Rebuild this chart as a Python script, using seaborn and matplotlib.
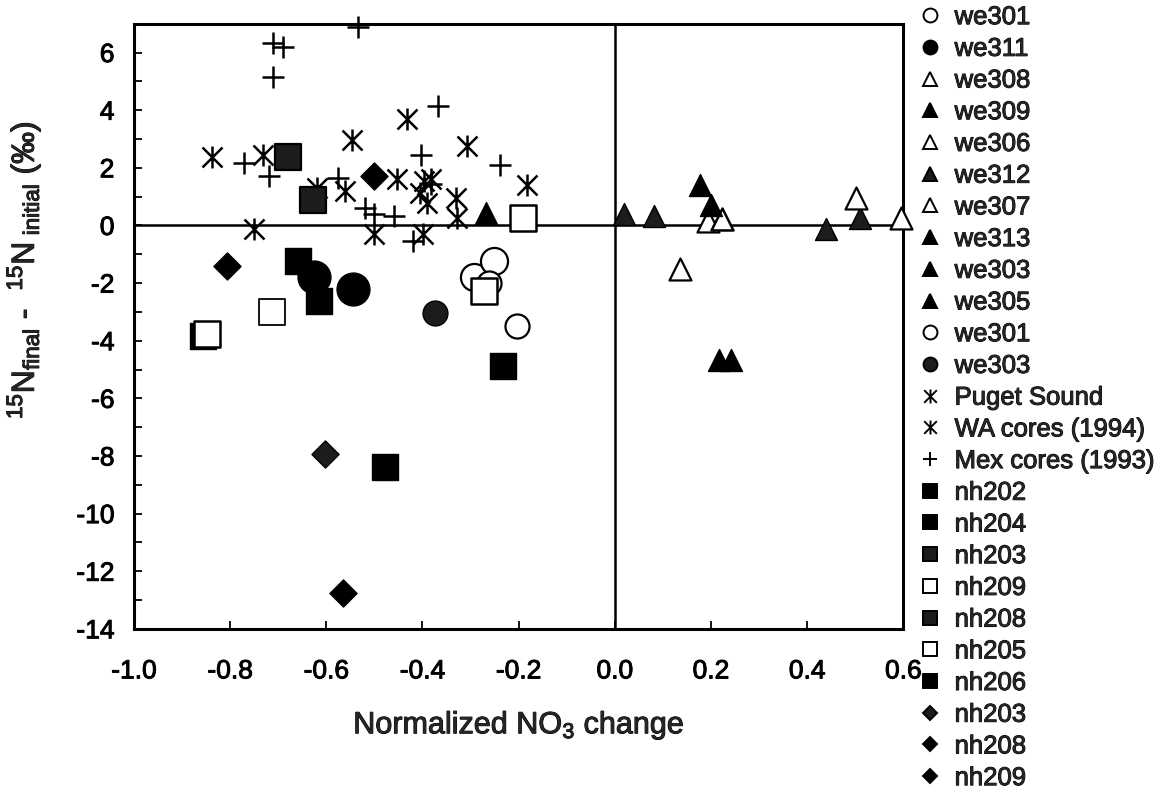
"""
Recreated figure: 15N change vs normalized NO3 change for the we/nh
incubations and the Puget Sound / WA / Mex core data.
"""

import numpy as np
import pandas as pd
import matplotlib
matplotlib.use("Agg")
import matplotlib.pyplot as plt
import matplotlib.patheffects as pe
from matplotlib.lines import Line2D
from matplotlib.path import Path
from matplotlib.text import Text
from matplotlib.ticker import MultipleLocator
import seaborn as sns

# series in legend order; we301 / we303 / nh203 / nh208 / nh209 appear twice,
# so the keys carry a suffix and the legend text is kept separately
series_keys = ["we301", "we311", "we308", "we309", "we306", "we312", "we307",
               "we313", "we303", "we305", "we301b", "we303b", "puget",
               "wa94", "mex93", "nh202", "nh204", "nh203", "nh209", "nh208",
               "nh205", "nh206", "nh203d", "nh208d", "nh209d"]
legend_labels = ["we301", "we311", "we308", "we309", "we306", "we312", "we307",
                 "we313", "we303", "we305", "we301", "we303", "Puget Sound",
                 "WA cores (1994)", "Mex cores (1993)", "nh202", "nh204",
                 "nh203", "nh209", "nh208", "nh205", "nh206", "nh203", "nh208",
                 "nh209"]

# points (x: normalized NO3 change, y: d15N change)
pt_series = (["we301"] * 2 + ["we311"] * 2 + ["we308"] * 2 + ["we309"]
             + ["we306"] + ["we312"] * 4 + ["we307"] * 2 + ["we313"] * 2
             + ["we303"] + ["we305"] + ["we301b"] * 2 + ["we303b"]
             + ["puget"] * 6 + ["wa94"] * 12 + ["mex93"] * 15
             + ["nh202"] + ["nh204"] * 2 + ["nh203"] + ["nh209"] + ["nh208"]
             + ["nh205"] * 3 + ["nh206"] * 2 + ["nh203d"] + ["nh208d"] * 2
             + ["nh209d"])
pt_x = [-0.293, -0.251,                      # we301
        -0.626, -0.544,                      # we311
        0.135, 0.193,                        # we308
        0.177,                               # we309
        0.224,                               # we306
        0.019, 0.081, 0.440, 0.509,          # we312
        0.502, 0.596,                        # we307
        0.217, 0.242,                        # we313
        -0.267,                              # we303
        0.200,                               # we305
        -0.204, -0.262,                      # we301 (2)
        -0.374,                              # we303 (2)
        -0.751, -0.501, -0.398, -0.328, -0.619, -0.390,   # Puget Sound
        -0.837, -0.731, -0.546, -0.432, -0.307, -0.182,
        -0.453, -0.397, -0.404, -0.560, -0.331, -0.383,   # WA cores
        -0.534, -0.710, -0.689, -0.711, -0.368, -0.772, -0.719, -0.402,
        -0.238, -0.576, -0.383, -0.519, -0.501, -0.460, -0.420,  # Mex cores
        -0.658,                              # nh202
        -0.616, -0.857,                      # nh204
        -0.679,                              # nh203
        -0.712,                              # nh209
        -0.628,                              # nh208
        -0.848, -0.272, -0.190,              # nh205
        -0.232, -0.478,                      # nh206
        -0.602,                              # nh203 diamond
        -0.501, -0.807,                      # nh208 diamond
        -0.566]                              # nh209 diamond
pt_y = [-1.80, -1.23,
        -1.80, -2.21,
        -1.52, 0.15,
        1.41,
        0.21,
        0.38, 0.32, -0.14, 0.27,
        0.95, 0.27,
        -4.68, -4.68,
        0.44,
        0.72,
        -3.49, -2.00,
        -3.03,
        -0.14, -0.30, -0.31, 0.27, 1.30, 0.78,
        2.39, 2.45, 2.97, 3.71, 2.77, 1.41,
        1.61, 1.53, 1.13, 1.18, 0.95, 1.60,
        6.88, 6.33, 6.20, 5.15, 4.14, 2.16, 1.70, 2.43,
        2.08, 1.64, 1.45, 0.61, 0.38, 0.34, -0.54,
        -1.23,
        -2.61, -3.83,
        2.39,
        -3.01,
        0.90,
        -3.76, -2.26, 0.27,
        -4.87, -8.38,
        -7.92,
        1.70, -1.40,
        -12.75]

x_ticks = [-1.0, -0.8, -0.6, -0.4, -0.2, 0.0, 0.2, 0.4, 0.6]
y_ticks = [6, 4, 2, 0, -2, -4, -6, -8, -10, -12, -14]

# six-armed asterisk: an X with a vertical bar
ASTER = Path([(-1, -1), (1, 1), (-1, 1), (1, -1), (0, -1.1), (0, 1.1)],
             [Path.MOVETO, Path.LINETO, Path.MOVETO, Path.LINETO,
              Path.MOVETO, Path.LINETO])

DARK = "#1c1c1c"
# marker, face colour, marker area (pt^2), edge width
STYLE = {
    "we301": ("o", "white", 380, 1.6),
    "we311": ("o", "black", 560, 1.0),
    "we308": ("^", "white", 250, 1.6),
    "we309": ("^", "black", 250, 1.0),
    "we306": ("^", "white", 250, 1.8),
    "we312": ("^", DARK, 250, 1.0),
    "we307": ("^", "white", 250, 1.6),
    "we313": ("^", "black", 250, 1.0),
    "we303": ("^", "black", 250, 1.0),
    "we305": ("^", "black", 250, 1.0),
    "we301b": ("o", "white", 300, 1.6),
    "we303b": ("o", DARK, 320, 1.0),
    "puget": (ASTER, "black", 250, 1.8),
    "wa94": (ASTER, "black", 250, 1.8),
    "mex93": ("+", "black", 270, 1.8),
    "nh202": ("s", "black", 350, 1.0),
    "nh204": ("s", "black", 350, 1.0),
    "nh203": ("s", DARK, 350, 1.6),
    "nh209": ("s", "white", 330, 1.3),
    "nh208": ("s", DARK, 330, 1.6),
    "nh205": ("s", "white", 340, 1.8),
    "nh206": ("s", "black", 360, 1.0),
    "nh203d": ("D", DARK, 190, 1.0),
    "nh208d": ("D", "black", 190, 1.0),
    "nh209d": ("D", "black", 190, 1.0),
}

sns.set_style("ticks")
plt.rcParams["font.family"] = ["Liberation Sans", "DejaVu Sans"]
plt.rcParams["mathtext.fontset"] = "custom"
plt.rcParams["mathtext.rm"] = "Liberation Sans"
plt.rcParams["mathtext.it"] = "Liberation Sans:italic"
plt.rcParams["axes.unicode_minus"] = False

df = pd.DataFrame({"series": pt_series, "x": pt_x, "y": pt_y})

fig = plt.figure(figsize=(11.64, 7.91), dpi=100)
ax = fig.add_axes([0.115, 0.205, 0.661, 0.765])

ax.axhline(0, color="black", linewidth=1.8, zorder=1)
ax.axvline(0, color="black", linewidth=1.8, zorder=1)

for key in series_keys:
    sub = df[df["series"] == key]
    marker, face, size, lw = STYLE[key]
    sns.scatterplot(x=sub["x"], y=sub["y"], marker=marker, s=size, color=face,
                    edgecolor="black", linewidth=lw, legend=False, ax=ax,
                    zorder=3, clip_on=False)

ax.set_xlim(-1.0, 0.6)
ax.set_ylim(-14, 7)
ax.set_xticks(x_ticks)
ax.set_xticklabels([f"{v:.1f}" for v in x_ticks])
ax.set_yticks(y_ticks)
ax.set_yticklabels([str(v) for v in y_ticks])
ax.yaxis.set_minor_locator(MultipleLocator(1))
ax.tick_params(axis="both", which="both", direction="in", length=6, width=1.3,
               labelsize=19, colors="black")
ax.tick_params(axis="x", pad=22)
ax.tick_params(axis="y", pad=14)
for sp in ax.spines.values():
    sp.set_linewidth(2.2)
    sp.set_color("black")

ax.set_xlabel("Normalized NO$_3$ change", fontsize=22, labelpad=18)
ax.set_ylabel(r"$^{15}$N$_{\rm final}$ -  $^{15}$N$_{\rm \ initial}$ (‰)",
              fontsize=23)
ax.yaxis.set_label_coords(-0.118, 0.593)

# legend with uniform small markers, as in the original
handles = []
for key, lab in zip(series_keys, legend_labels):
    marker, face, size, lw = STYLE[key]
    ms = 7 if marker == "D" else 10
    handles.append(Line2D([], [], linestyle="none", marker=marker,
                          markersize=ms, markerfacecolor=face,
                          markeredgecolor="black", markeredgewidth=1.4,
                          label=lab))
fig.legend(handles=handles, loc="upper left",
           bbox_to_anchor=(0.787, 1.0), frameon=False, fontsize=18.5,
           handlelength=0.65, handletextpad=0.65, labelspacing=0.30,
           borderpad=0.2, borderaxespad=0)

# the scanned original has heavy type; thicken the glyphs slightly
for t in fig.findobj(Text):
    t.set_path_effects([pe.withStroke(linewidth=0.7, foreground="black")])

fig.savefig("out.png", dpi=100)
plt.close(fig)
